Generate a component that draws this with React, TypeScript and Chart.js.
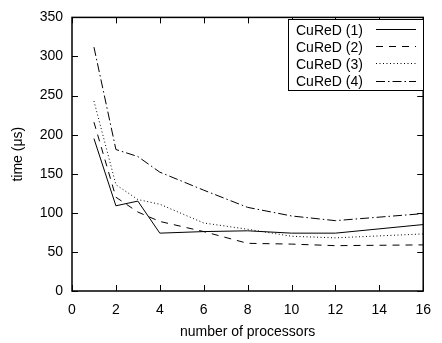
import React, { useEffect, useRef } from "react";
import { Chart, registerables } from "chart.js";

Chart.register(...registerables);

const procs = [1, 2, 3, 4, 6, 8, 10, 12, 16];
const cured1 = [195, 109, 115, 74, 76, 77, 74, 74, 85];
const cured2 = [216, 120, 101, 89, 76, 61, 60, 58, 59];
const cured3 = [243, 136, 117, 111, 87, 79, 70, 68, 73];
const cured4 = [312, 181, 172, 152, 129, 107, 96, 90, 99];
const seriesLabels = ["CuReD (1)", "CuReD (2)", "CuReD (3)", "CuReD (4)"];
const xTicks = [0, 2, 4, 6, 8, 10, 12, 14, 16];
const yTicks = [0, 50, 100, 150, 200, 250, 300, 350];

const FONT = "'Liberation Sans', Arial, Helvetica, sans-serif";
const dashes = [[], [7, 6], [1, 2.5], [9, 3, 1.5, 3]];

const framePlugin = {
  id: "frameTicks",
  afterDraw(chart: any) {
    const ctx = chart.ctx;
    const a = chart.chartArea;
    const xs = chart.scales.x;
    const ys = chart.scales.y;
    ctx.save();
    ctx.strokeStyle = "#000";
    ctx.lineWidth = 1;
    const L = 6;
    ctx.beginPath();
    xTicks.forEach((t) => {
      const px = Math.round(xs.getPixelForValue(t)) + 0.5;
      ctx.moveTo(px, a.bottom);
      ctx.lineTo(px, a.bottom - L);
      ctx.moveTo(px, a.top);
      ctx.lineTo(px, a.top + L);
    });
    yTicks.forEach((t) => {
      const py = Math.round(ys.getPixelForValue(t)) + 0.5;
      ctx.moveTo(a.left, py);
      ctx.lineTo(a.left + L, py);
      ctx.moveTo(a.right, py);
      ctx.lineTo(a.right - L, py);
    });
    ctx.stroke();
    ctx.lineWidth = 1.5;
    ctx.strokeRect(a.left, a.top, a.right - a.left, a.bottom - a.top);

    // legend
    const bx = 288.5, by = 19.5, bw = 135, bh = 71;
    ctx.fillStyle = "#fff";
    ctx.fillRect(bx, by, bw, bh);
    ctx.lineWidth = 1;
    ctx.strokeStyle = "#000";
    ctx.strokeRect(bx, by, bw, bh);
    ctx.font = "14px " + FONT;
    ctx.fillStyle = "#000";
    ctx.textBaseline = "middle";
    ctx.textAlign = "left";
    chart.data.datasets.forEach((ds: any, i: number) => {
      const cy = 31 + i * 17.2;
      ctx.fillText(ds.label, 296, cy);
      ctx.save();
      ctx.setLineDash(ds.borderDash || []);
      ctx.lineWidth = 1;
      ctx.beginPath();
      ctx.moveTo(376, Math.round(cy) - 1.5);
      ctx.lineTo(416, Math.round(cy) - 1.5);
      ctx.stroke();
      ctx.restore();
    });
    ctx.restore();
  },
};

export default function App() {
  const ref = useRef<HTMLCanvasElement>(null);
  useEffect(() => {
    if (!ref.current) return;
    const all = [cured1, cured2, cured3, cured4];
    const chart = new Chart(ref.current, {
      type: "line",
      data: {
        datasets: all.map((arr, i) => ({
          label: seriesLabels[i],
          data: arr.map((v, j) => ({ x: procs[j], y: v })),
          borderColor: "#000",
          borderWidth: 1,
          borderDash: dashes[i],
          pointRadius: 0,
          fill: false,
          tension: 0,
        })),
      },
      options: {
        animation: false,
        responsive: false,
        devicePixelRatio: 1,
        layout: { padding: { left: 0, right: 10, top: 13, bottom: 0 } },
        plugins: { legend: { display: false }, tooltip: { enabled: false } },
        scales: {
          x: {
            type: "linear",
            min: 0,
            max: 16,
            afterFit: (s: any) => {
              s.height = 52;
            },
            afterBuildTicks: (s: any) => {
              s.ticks = xTicks.map((v) => ({ value: v }));
            },
            grid: { display: false, drawTicks: false },
            border: { display: false },
            ticks: { color: "#000", padding: 11, font: { size: 14, family: FONT }, maxRotation: 0 },
            title: {
              display: true,
              text: "number of processors",
              color: "#000",
              font: { size: 14, family: FONT },
              padding: { top: 0, bottom: 2 },
            },
          },
          y: {
            type: "linear",
            min: 0,
            max: 350,
            afterFit: (s: any) => {
              s.width = 72;
            },
            afterBuildTicks: (s: any) => {
              s.ticks = yTicks.map((v) => ({ value: v }));
            },
            grid: { display: false, drawTicks: false },
            border: { display: false },
            ticks: { color: "#000", padding: 9, font: { size: 14, family: FONT } },
            title: {
              display: true,
              text: "time (μs)",
              color: "#000",
              font: { size: 14, family: FONT },
              padding: { top: 10, bottom: 0 },
            },
          },
        },
      },
      plugins: [framePlugin],
    });
    return () => chart.destroy();
  }, []);
  return (
    <div style={{ position: "fixed", left: 0, top: 0, width: 442, height: 343, background: "#fff" }}>
      <canvas ref={ref} width={442} height={343} style={{ display: "block" }} />
    </div>
  );
}
